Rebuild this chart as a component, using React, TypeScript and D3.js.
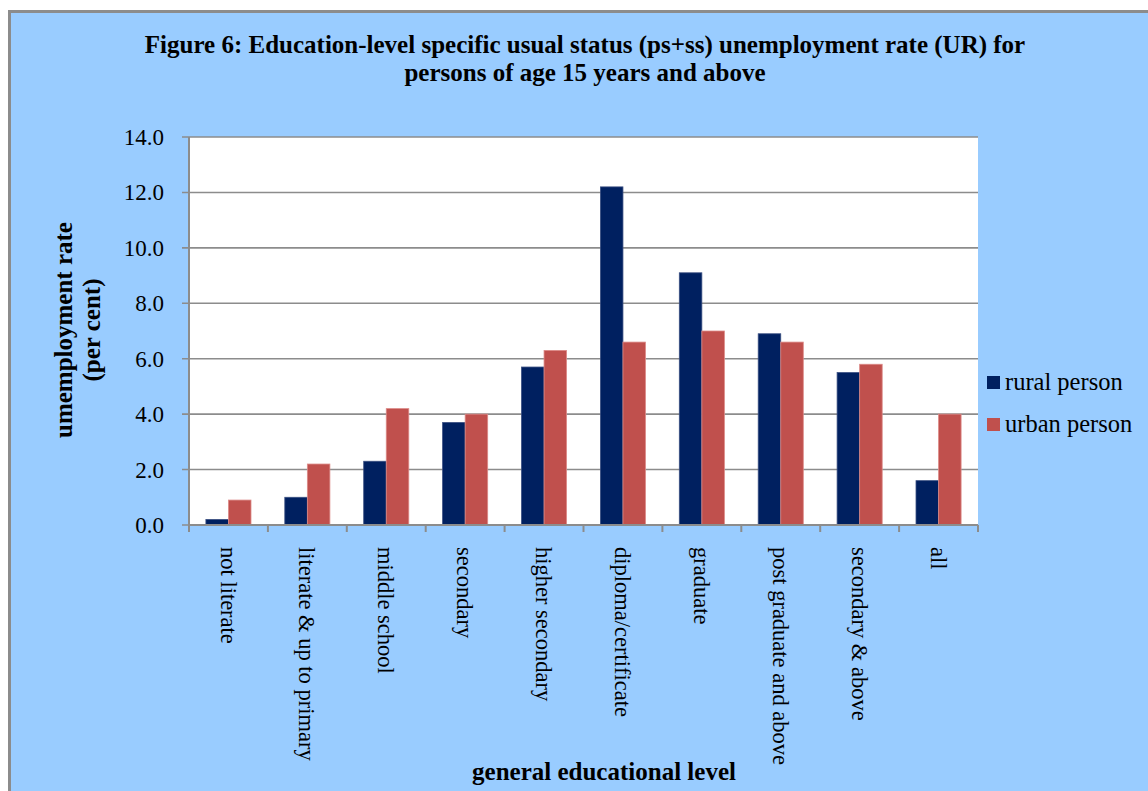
import { scaleBand, scaleLinear, range } from 'd3'

const WIDTH = 1148
const HEIGHT = 791
const PLOT = { left: 189, right: 978, top: 137, bottom: 525 }

const categories = [
  'not literate',
  'literate & up to primary',
  'middle school',
  'secondary',
  'higher secondary',
  'diploma/certificate',
  'graduate',
  'post graduate and above',
  'secondary & above',
  'all',
]
const rural = [0.2, 1.0, 2.3, 3.7, 5.7, 12.2, 9.1, 6.9, 5.5, 1.6]
const urban = [0.9, 2.2, 4.2, 4.0, 6.3, 6.6, 7.0, 6.6, 5.8, 4.0]
const yTicks = [0, 2, 4, 6, 8, 10, 12, 14]

const series = [
  { key: 'rural person', color: '#002060', edge: '#3a4f82', values: rural },
  { key: 'urban person', color: '#c0504d', edge: '#dc8a88', values: urban },
]

const titleLines = [
  'Figure 6: Education-level specific usual status (ps+ss) unemployment rate (UR) for',
  'persons of age 15 years and above',
]

const SERIF = '"Liberation Serif", "Times New Roman", serif'
const GRID = '#8c8c8c'

export default function App() {
  const x = scaleBand<string>().domain(categories).range([PLOT.left, PLOT.right])
  // Excel default gap width 150%
  const barW = x.bandwidth() / 3.5
  const gap = (x.bandwidth() - 2 * barW) / 2
  const y = scaleLinear().domain([0, 14]).range([PLOT.bottom, PLOT.top])

  return (
    <svg
      width={WIDTH}
      height={HEIGHT}
      style={{ position: 'absolute', left: 0, top: 0, display: 'block' }}
      fontFamily={SERIF}
    >
      <rect x={0} y={0} width={WIDTH} height={HEIGHT} fill="#ffffff" />
      <rect x={9.5} y={11.5} width={WIDTH + 20} height={HEIGHT + 20} fill="#99ccff" stroke={GRID} strokeWidth={3} />

      {titleLines.map((line, i) => (
        <text key={i} x={585} y={53 + i * 27.5} textAnchor="middle" fontSize={25} fontWeight="bold">
          {line}
        </text>
      ))}

      <rect x={PLOT.left} y={PLOT.top} width={PLOT.right - PLOT.left} height={PLOT.bottom - PLOT.top} fill="#ffffff" />

      {yTicks.map((t) => (
        <g key={t}>
          <line x1={PLOT.left - 7} x2={PLOT.right} y1={y(t)} y2={y(t)} stroke={GRID} strokeWidth={1.6} />
          <text x={164} y={y(t)} dy="0.35em" textAnchor="end" fontSize={23}>
            {t.toFixed(1)}
          </text>
        </g>
      ))}

      {categories.map((c, i) => (
        <g key={c}>
          {series.map((s, j) => (
            <rect
              key={s.key}
              x={(x(c) ?? 0) + gap + j * barW}
              y={y(s.values[i])}
              width={barW}
              height={y(0) - y(s.values[i])}
              fill={s.color}
              stroke={s.edge}
              strokeWidth={0.8}
            />
          ))}
        </g>
      ))}

      <line x1={PLOT.left} x2={PLOT.left} y1={PLOT.top} y2={PLOT.bottom} stroke={GRID} strokeWidth={2} />
      <line x1={PLOT.left} x2={PLOT.right} y1={PLOT.bottom} y2={PLOT.bottom} stroke={GRID} strokeWidth={2} />
      {range(categories.length + 1).map((i) => {
        const xx = PLOT.left + i * x.step()
        return <line key={i} x1={xx} x2={xx} y1={PLOT.bottom} y2={PLOT.bottom + 7} stroke={GRID} strokeWidth={2} />
      })}

      {categories.map((c) => {
        const cx = (x(c) ?? 0) + x.bandwidth() / 2
        return (
          <text key={c} transform={`translate(${cx}, 547) rotate(90)`} dy="0.35em" fontSize={22.5}>
            {c}
          </text>
        )
      })}

      <g transform="translate(63, 330) rotate(-90)" fontWeight="bold" fontSize={25} textAnchor="middle">
        <text y={0} dy="0.35em">umemployment rate</text>
        <text y={28} dy="0.35em">(per cent)</text>
      </g>

      <text x={604} y={780} textAnchor="middle" fontSize={25} fontWeight="bold">
        general educational level
      </text>

      {series.map((s, i) => (
        <g key={s.key} transform={`translate(987, ${376 + i * 42})`}>
          <rect width={13} height={13} fill={s.color} />
          <text x={18} y={14} fontSize={24.5}>
            {s.key}
          </text>
        </g>
      ))}
    </svg>
  )
}
